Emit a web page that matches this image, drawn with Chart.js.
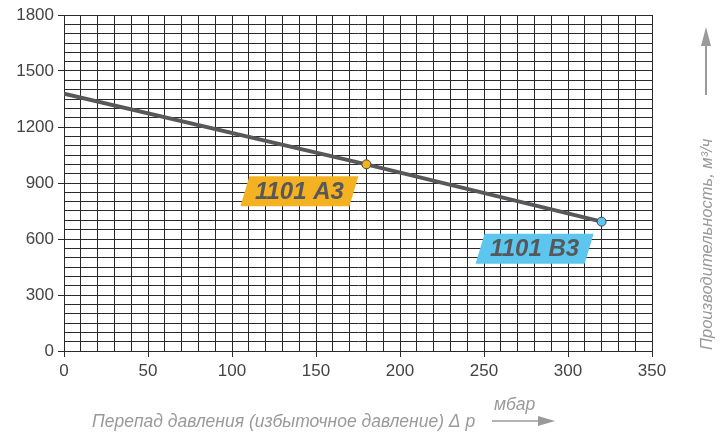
<!DOCTYPE html>
<html>
<head>
<meta charset="utf-8">
<script src="https://cdn.jsdelivr.net/npm/chart.js@4.4.1/dist/chart.umd.min.js"></script>
<style>
	html, body { margin: 0; padding: 0; background: #fff; }
	#wrap { position: relative; width: 725px; height: 433px; }
</style>
</head>
<body>
<div id="wrap"><canvas id="flowChart" width="725" height="433"></canvas></div>
<script>
// pressure drop, mbar
const pressure = [0, 180, 320]
// airflow, m3/h
const flow = [1378, 1000, 693]
// model tags, one per marked point (first point has none)
const models = ["", "1101 A3", "1101 B3"]
const modelColors = ["transparent", "#f4b223", "#5cc6ef"]

const xTicks = [0, 50, 100, 150, 200, 250, 300, 350]
const yTicks = [0, 300, 600, 900, 1200, 1500, 1800]

const xTitle = "Перепад давления (избыточное давление) Δ p"
const xUnit = "мбар"
const yTitle = "Производительность, м³/ч"

const tickFont = { family: "Liberation Sans, Arial, sans-serif", size: 17 }

// tag boxes + axis titles with arrows
const annotations = {
	id: "annotations",
	afterDatasetsDraw(chart) {
		const ctx = chart.ctx
		const meta = chart.getDatasetMeta(0)
		ctx.save()
		meta.data.forEach((pt, i) => {
			if (!models[i]) return
			const left = pt.x - 126
			const top = pt.y + 12
			const w = 109
			const h = 30
			const skew = 9
			ctx.fillStyle = modelColors[i]
			ctx.beginPath()
			ctx.moveTo(left + skew, top)
			ctx.lineTo(left + w + skew, top)
			ctx.lineTo(left + w, top + h)
			ctx.lineTo(left, top + h)
			ctx.closePath()
			ctx.fill()
			ctx.fillStyle = "#58585a"
			ctx.font = "italic bold 24px Liberation Sans, Arial, sans-serif"
			ctx.textAlign = "center"
			ctx.textBaseline = "middle"
			ctx.fillText(models[i], left + w / 2 + skew / 2, top + h / 2 + 1)
		})
		ctx.restore()
	},
	afterDraw(chart) {
		const ctx = chart.ctx
		ctx.save()
		ctx.fillStyle = "#9a9a9c"
		ctx.strokeStyle = "#9a9a9c"
		ctx.font = "italic 17.5px Liberation Sans, Arial, sans-serif"
		ctx.textBaseline = "alphabetic"
		ctx.textAlign = "left"
		ctx.fillText(xTitle, 92, 427)
		ctx.fillText(xUnit, 494, 410)
		// x arrow
		ctx.lineWidth = 1.5
		ctx.beginPath()
		ctx.moveTo(492, 421)
		ctx.lineTo(542, 421)
		ctx.stroke()
		ctx.beginPath()
		ctx.moveTo(555, 421)
		ctx.lineTo(538, 416)
		ctx.lineTo(538, 426)
		ctx.closePath()
		ctx.fill()

		// y title, rotated
		ctx.font = "italic 16.5px Liberation Sans, Arial, sans-serif"
		ctx.translate(712, 350)
		ctx.rotate(-Math.PI / 2)
		ctx.fillText(yTitle, 0, 0)
		ctx.restore()

		ctx.save()
		ctx.fillStyle = "#9a9a9c"
		ctx.strokeStyle = "#9a9a9c"
		ctx.lineWidth = 2
		ctx.beginPath()
		ctx.moveTo(706, 95)
		ctx.lineTo(706, 42)
		ctx.stroke()
		ctx.beginPath()
		ctx.moveTo(706, 27)
		ctx.lineTo(701, 46)
		ctx.lineTo(711, 46)
		ctx.closePath()
		ctx.fill()
		ctx.restore()
	},
}

new Chart(document.getElementById("flowChart"), {
	type: "line",
	data: {
		datasets: [
			{
				data: pressure.map((p, i) => ({ x: p, y: flow[i] })),
				borderColor: "#58585a",
				borderWidth: 4,
				pointRadius: (c) => (c.dataIndex === 0 ? 0 : 4.5),
				pointBackgroundColor: modelColors,
				pointBorderColor: "#444",
				pointBorderWidth: 1,
				tension: 0,
			},
		],
	},
	options: {
		responsive: false,
		animation: false,
		layout: { padding: { left: 0, right: 73, top: 15, bottom: 0 } },
		plugins: { legend: { display: false }, tooltip: { enabled: false } },
		scales: {
			x: {
				type: "linear",
				min: 0,
				max: 350,
				afterBuildTicks: (s) => {
					s.ticks = []
					for (let v = 0; v <= 350; v += 10) s.ticks.push({ value: v })
				},
				afterFit: (s) => {
					s.height = 82
				},
				ticks: {
					autoSkip: false,
					maxRotation: 0,
					color: "#444",
					font: tickFont,
					padding: 4,
					callback: (v) => (xTicks.includes(v) ? v : ""),
				},
				grid: {
					color: "#2a2a2a",
					lineWidth: 1,
					tickLength: 6,
					tickColor: (c) => (c.tick && xTicks.includes(c.tick.value) ? "#2a2a2a" : "transparent"),
				},
				border: { color: "#2a2a2a", width: 1 },
			},
			y: {
				min: 0,
				max: 1800,
				afterBuildTicks: (s) => {
					s.ticks = []
					for (let v = 0; v <= 1800; v += 50) s.ticks.push({ value: v })
				},
				afterFit: (s) => {
					s.width = 64
				},
				ticks: {
					autoSkip: false,
					color: "#444",
					font: tickFont,
					padding: 4,
					callback: (v) => (yTicks.includes(v) ? v : ""),
				},
				grid: {
					color: "#2a2a2a",
					lineWidth: 1,
					tickLength: 6,
					tickColor: (c) => (c.tick && yTicks.includes(c.tick.value) ? "#2a2a2a" : "transparent"),
				},
				border: { color: "#2a2a2a", width: 1 },
			},
		},
	},
	plugins: [annotations],
})
</script>
</body>
</html>
